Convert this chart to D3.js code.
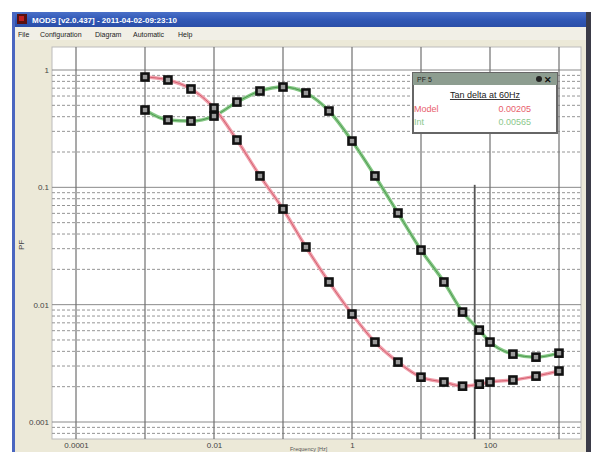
<!DOCTYPE html>
<html><head><meta charset="utf-8">
<script src="https://cdn.jsdelivr.net/npm/d3@7"></script>
<style>body{margin:0;background:#fff}svg{display:block;font-family:Arial,"Liberation Sans",sans-serif}</style>
</head><body><svg id="c" width="591" height="452"></svg>
<script>
const freqs=[0.001,0.00215,0.00464,0.01,0.0215,0.0464,0.1,0.215,0.464,1,2.15,4.64,10,21.5,40,70,100,215,464,1000];
const modelPF=[0.871,0.822,0.689,0.474,0.253,0.125,0.0653,0.031,0.0156,0.00832,0.0048,0.00324,0.00241,0.00219,0.00202,0.0021,0.00219,0.00228,0.00246,0.00272];
const intPF=[0.456,0.375,0.367,0.405,0.533,0.662,0.716,0.637,0.447,0.248,0.125,0.0604,0.0292,0.0156,0.00865,0.00607,0.0048,0.00379,0.00357,0.00386];
const xTickValues=[0.0001,0.01,1,100];
const xTickLabels=["0.0001","0.01","1","100"];
const yTickValues=[1,0.1,0.01,0.001];
const yTickLabels=["1","0.1","0.01","0.001"];
const menuItems=["File","Configuration","Diagram","Automatic","Help"];
const windowTitle="MODS [v2.0.437] - 2011-04-02-09:23:10";
const legendTitle="Tan delta at 60Hz";
const legendNames=["Model","Int"];
const legendValues=["0.00205","0.00565"];
const cursorFreq=60, cursorTopPF=0.105;

const svg=d3.select("#c");
// window chrome
svg.append("rect").attr("x",0).attr("y",0).attr("width",591).attr("height",452).attr("fill","#fff");
svg.append("rect").attr("x",14).attr("y",27).attr("width",572).attr("height",425).attr("fill","#ece9d8");
svg.append("rect").attr("x",14).attr("y",27).attr("width",572).attr("height",13).attr("fill","#f1efe6");
const tg=svg.append("defs").append("linearGradient").attr("id","tb").attr("x1",0).attr("y1",0).attr("x2",0).attr("y2",1);
tg.append("stop").attr("offset","0").attr("stop-color","#4a70c8");
tg.append("stop").attr("offset","0.5").attr("stop-color","#3158b6");
tg.append("stop").attr("offset","1").attr("stop-color","#2b4ea8");
svg.append("rect").attr("x",14).attr("y",12).attr("width",574).attr("height",15).attr("fill","url(#tb)");
svg.append("rect").attr("x",12).attr("y",12).attr("width",3).attr("height",440).attr("fill","#4a66c0");
svg.append("rect").attr("x",586).attr("y",12).attr("width",5).attr("height",440).attr("fill","#3b3b48");
svg.append("rect").attr("x",17).attr("y",14).attr("width",10).attr("height",10).attr("fill","#5a1010");
svg.append("rect").attr("x",19).attr("y",16).attr("width",5).attr("height",5).attr("fill","#c02020");
svg.append("text").attr("x",32).attr("y",23).attr("fill","#fff").attr("font-size",8).attr("font-weight","bold").text(windowTitle);
const menuX=[18,40,95,133,178];
svg.selectAll("text.menu").data(menuItems).join("text").attr("class","menu")
  .attr("x",(d,i)=>menuX[i]).attr("y",37).attr("font-size",7).attr("fill","#222").text(d=>d);

// plot
const L=52,R=581,T=47,B=439;
svg.append("rect").attr("x",L).attr("y",T).attr("width",R-L).attr("height",B-T).attr("fill","#fff").attr("stroke","#bbb");
const x=d3.scaleLog().domain([0.0001,1000]).range([76,559]);
const y=d3.scaleLog().domain([0.001,1]).range([422,70]);
svg.append("clipPath").attr("id","pc").append("rect").attr("x",L).attr("y",T).attr("width",R-L).attr("height",B-T);
const g=svg.append("g").attr("clip-path","url(#pc)");
const yMinor=[],yMajor=[];
for(let e=-4;e<=0;e++){for(let m=1;m<=9;m++){const v=m*Math.pow(10,e);(m===1?yMajor:yMinor).push(v);}}
yMajor.push(10);
g.selectAll("line.hm").data(yMinor).join("line").attr("x1",L).attr("x2",R).attr("y1",d=>y(d)).attr("y2",d=>y(d))
  .attr("stroke","#959595").attr("stroke-dasharray","3,2").attr("stroke-width",1);
g.selectAll("line.hM").data(yMajor).join("line").attr("x1",L).attr("x2",R).attr("y1",d=>y(d)).attr("y2",d=>y(d))
  .attr("stroke","#8a8a8a").attr("stroke-width",1);
const xMajor=[1e-4,1e-3,1e-2,1e-1,1,10,100,1000];
g.selectAll("line.vM").data(xMajor).join("line").attr("y1",T).attr("y2",B).attr("x1",d=>x(d)).attr("x2",d=>x(d))
  .attr("stroke","#707070").attr("stroke-width",1.2);
g.append("line").attr("x1",x(cursorFreq)).attr("x2",x(cursorFreq)).attr("y1",y(cursorTopPF)).attr("y2",B)
  .attr("stroke","#555").attr("stroke-width",1.8);

const line=d3.line().x((d,i)=>x(freqs[i])).y(d=>y(d)).curve(d3.curveMonotoneX);
g.append("path").attr("d",line(intPF)).attr("fill","none").attr("stroke","#86c886").attr("stroke-width",3.5);
g.append("path").attr("d",line(intPF)).attr("fill","none").attr("stroke","#4f9a50").attr("stroke-width",1);
g.append("path").attr("d",line(modelPF)).attr("fill","none").attr("stroke","#f0a0ac").attr("stroke-width",3.5);
g.append("path").attr("d",line(modelPF)).attr("fill","none").attr("stroke","#d46070").attr("stroke-width",1);
[intPF,modelPF].forEach(s=>{
  g.selectAll(null).data(s).join("rect").attr("x",(d,i)=>x(freqs[i])-3.5).attr("y",d=>y(d)-3.5)
   .attr("width",7).attr("height",7).attr("fill","#9a9a9a").attr("stroke","#111").attr("stroke-width",2.6);
});

// axes labels
const ya=svg.append("g").attr("transform",`translate(${L},0)`)
  .call(d3.axisLeft(y).tickValues(yTickValues).tickFormat((d,i)=>yTickLabels[i]).tickSize(0).tickPadding(3));
ya.select(".domain").remove();
ya.selectAll("text").attr("font-size",8).attr("fill","#444").attr("font-family","Arial");
const xa=svg.append("g").attr("transform",`translate(0,${B})`)
  .call(d3.axisBottom(x).tickValues(xTickValues).tickFormat((d,i)=>xTickLabels[i]).tickSize(0).tickPadding(3));
xa.select(".domain").remove();
xa.selectAll("text").attr("font-size",8).attr("fill","#444").attr("font-family","Arial");
svg.append("text").attr("transform","translate(24,245) rotate(-90)").attr("text-anchor","middle")
  .attr("font-size",8).attr("fill","#444").text("PF");
svg.append("text").attr("x",290).attr("y",451).attr("font-size",5.5).attr("fill","#555").text("Frequency [Hz]");

// legend box
const lg=svg.append("g");
lg.append("rect").attr("x",413).attr("y",73).attr("width",144).attr("height",60).attr("fill","#fff").attr("stroke","#666").attr("stroke-width",2);
lg.append("rect").attr("x",413).attr("y",73).attr("width",144).attr("height",12).attr("fill","#8d9d90");
lg.append("text").attr("x",417).attr("y",82).attr("font-size",7).attr("fill","#222").text("PF 5");
lg.append("circle").attr("cx",539).attr("cy",79).attr("r",3).attr("fill","#222");
lg.append("text").attr("x",544).attr("y",83).attr("font-size",9).attr("font-weight","bold").attr("fill","#111").text("✕");
lg.append("text").attr("x",485).attr("y",98).attr("text-anchor","middle").attr("font-size",9).attr("fill","#222")
  .attr("text-decoration","underline").text(legendTitle);
const lcol=["#e8606c","#8cc88c"];
lg.selectAll("text.ln").data(legendNames).join("text").attr("class","ln").attr("x",414).attr("y",(d,i)=>112+i*13)
  .attr("font-size",9).attr("fill",(d,i)=>lcol[i]).text(d=>d);
lg.selectAll("text.lv").data(legendValues).join("text").attr("class","lv").attr("x",531).attr("y",(d,i)=>112+i*13)
  .attr("text-anchor","end").attr("font-size",9).attr("fill",(d,i)=>lcol[i]).text(d=>d);
</script></body></html>
